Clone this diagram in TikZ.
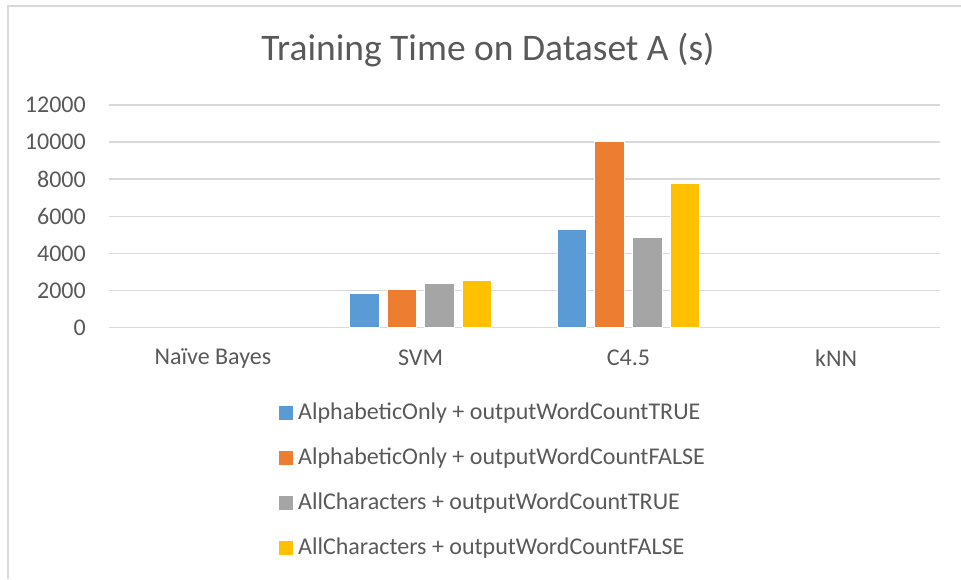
\documentclass[tikz,border=0pt]{standalone}
\usepackage{fontspec}
\setmainfont{Carlito}
\definecolor{txt}{HTML}{595959}
\definecolor{grid}{HTML}{D9D9D9}
\definecolor{sA}{HTML}{5B9BD5}
\definecolor{sB}{HTML}{ED7D31}
\definecolor{sC}{HTML}{A5A5A5}
\definecolor{sD}{HTML}{FFC000}
\tikzset{
  gridline/.style={draw=grid, line width=1.4pt},
  ticklabel/.style={text=txt, font=\fontsize{24}{28}\selectfont, anchor=east, inner sep=0pt},
  catlabel/.style={text=txt, font=\fontsize{24}{28}\selectfont, anchor=center, inner sep=0pt},
  legtext/.style={text=txt, font=\fontsize{24}{28}\selectfont, anchor=west, inner sep=0pt},
  bar/.style={draw=white, line width=0.8pt},
  legbox/.style={minimum size=14pt, inner sep=0pt, draw=none},
  frame/.style={draw=grid, line width=2pt},
}
\begin{document}
\begin{tikzpicture}[x=1pt, y=-1pt]
\useasboundingbox (0,0) rectangle (961,579);
% outer frame (top and left edges visible)
\draw[frame] (8,579) -- (8,6) -- (961,6);
% title
\node[text=txt, font=\fontsize{37.5}{44}\selectfont, inner sep=0pt] (title) at (488,50) {Training Time on Dataset A (s)};
% gridlines and tick labels
\foreach \v [count=\i from 0] in {0,2000,4000,6000,8000,10000,12000} {
  \pgfmathsetmacro{\yy}{327.5-37.08*\i}
  \draw[gridline] (109,\yy) -- (940,\yy);
  \node[ticklabel] (tick\i) at (86,\yy) {\v};
}
% category labels
\node[catlabel] (catNB) at (212.9,358) {Naïve Bayes};
\node[catlabel] (catSVM) at (420.6,358) {SVM};
\node[catlabel] (catC) at (628.4,358) {C4.5};
\node[catlabel] (catKNN) at (836.1,358) {kNN};
% bars: SVM (values in thousands)
\foreach \val/\col/\k in {1.85/sA/-1.5, 2.08/sB/-0.5, 2.37/sC/0.5, 2.53/sD/1.5} {
  \pgfmathsetmacro{\xc}{420.6+37.6*\k}
  \pgfmathsetmacro{\yt}{327.5-\val*18.54}
  \path[bar, fill=\col] (\xc-14.8,327.5) rectangle (\xc+14.8,\yt);
}
% bars: C4.5
\foreach \val/\col/\k in {5.30/sA/-1.5, 10.04/sB/-0.5, 4.85/sC/0.5, 7.79/sD/1.5} {
  \pgfmathsetmacro{\xc}{628.4+37.6*\k}
  \pgfmathsetmacro{\yt}{327.5-\val*18.54}
  \path[bar, fill=\col] (\xc-14.8,327.5) rectangle (\xc+14.8,\yt);
}
% legend
\node[legbox, fill=sA] (lk1) at (286,413) {};
\node[legtext] (lt1) at (298,413) {AlphabeticOnly + outputWordCountTRUE};
\node[legbox, fill=sB] (lk2) at (286,458) {};
\node[legtext] (lt2) at (298,458) {AlphabeticOnly + outputWordCountFALSE};
\node[legbox, fill=sC] (lk3) at (286,503) {};
\node[legtext] (lt3) at (298,503) {AllCharacters + outputWordCountTRUE};
\node[legbox, fill=sD] (lk4) at (286,548) {};
\node[legtext] (lt4) at (298,548) {AllCharacters + outputWordCountFALSE};
\end{tikzpicture}
\end{document}
